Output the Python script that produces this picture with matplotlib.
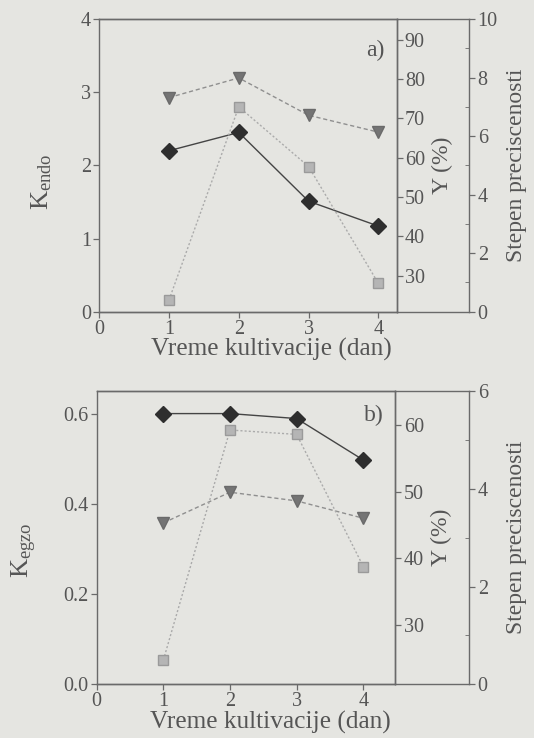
import matplotlib
matplotlib.use("Agg")
import matplotlib.pyplot as plt
from matplotlib.ticker import MultipleLocator

plt.rcParams['font.family'] = ['Liberation Serif', 'DejaVu Serif']
plt.rcParams['mathtext.fontset'] = 'custom'
plt.rcParams['mathtext.rm'] = 'Liberation Serif'
plt.rcParams['mathtext.it'] = 'Liberation Serif:italic'

# ---- data ----
days = [1, 2, 3, 4]
k_endo = [2.20, 2.45, 1.51, 1.17]
y_a = [75.3, 80.3, 70.8, 66.5]
stepen_a = [0.40, 7.00, 4.96, 0.97]

k_egzo = [0.600, 0.600, 0.589, 0.497]
y_b = [45.3, 49.9, 48.6, 46.0]
stepen_b = [0.49, 5.21, 5.12, 2.41]

xlabel = "Vreme kultivacije (dan)"
ylab_a = r"K$_{\rm endo}$"
ylab_b = r"K$_{\rm egzo}$"
ylab_y = "Y (%)"
ylab_s = "Stepen preciscenosti"

BG = "#e5e5e1"
AX = "#6a6a6a"
TX = "#555555"
W, H = 534, 738

fig = plt.figure(figsize=(W / 100, H / 100), dpi=100, facecolor=BG)


def frac(l, t, r, b):
    return [l / W, 1 - b / H, (r - l) / W, (b - t) / H]


def style_axis(a):
    a.tick_params(colors=AX, labelcolor=TX, labelsize=14.5, width=0.9)
    for s in a.spines.values():
        s.set_color(AX)
        s.set_linewidth(1.0)


def panel(l, t, r, b, outer, k, yv, sv, xlim, klim, kticks, kfmt, ylim, yticks,
          slim, sticks, sminor, klabel, klab_xy, tag, tag_xy, xlab_y):
    ax = fig.add_axes(frac(l, t, r, b))
    ax.set_facecolor("none")
    ax2 = ax.twinx()
    ax3 = ax.twinx()
    deco = fig.add_axes(frac(r, t, outer, b), sharey=ax3)
    deco.set_facecolor("none")

    # series
    ax.plot(days, k, color="#444444", lw=1.0, marker="D", ms=8,
            mfc="#2e2e2e", mec="#2e2e2e", zorder=5)
    ax2.plot(days, yv, color="#8f8f8f", lw=1.0, ls=(0, (3, 2)), marker="v",
             ms=9, mfc="#747474", mec="#6a6a6a", zorder=4)
    ax3.plot(days, sv, color="#ababab", lw=1.0, ls=(0, (1.5, 1.5)), marker="s",
             ms=6.5, mfc="#b5b5b5", mec="#9a9a9a", zorder=3)

    ax.set_xlim(*xlim)
    ax.set_ylim(*klim)
    ax.set_xticks([0, 1, 2, 3, 4])
    ax.set_yticks(kticks)
    ax.set_yticklabels([kfmt.format(v) for v in kticks])
    ax.spines['top'].set_visible(True)
    style_axis(ax)
    ax.tick_params(axis='both', direction='out', length=4, pad=2)

    ax2.set_ylim(*ylim)
    ax2.set_yticks(yticks)
    style_axis(ax2)
    ax2.tick_params(axis='y', direction='out', length=4, pad=2)
    ax2.spines['left'].set_visible(False)

    ax3.set_ylim(*slim)
    ax3.axis('off')

    deco.set_xticks([])
    deco.spines['left'].set_visible(False)
    deco.yaxis.tick_right()
    deco.set_yticks(sticks)
    deco.yaxis.set_minor_locator(MultipleLocator(sminor))
    style_axis(deco)
    deco.tick_params(axis='y', which='major', direction='out', length=4, pad=2)
    deco.tick_params(axis='y', which='minor', direction='in', length=3,
                     colors=AX)
    deco.tick_params(axis='y', which='both', left=False, labelleft=False)

    # labels
    fig.text(klab_xy[0] / W, 1 - klab_xy[1] / H, klabel, rotation=90,
             ha='center', va='center', fontsize=19, color=TX)
    fig.text((r + 46) / W, 1 - ((t + b) / 2) / H, ylab_y, rotation=90,
             ha='center', va='center', fontsize=17, color=TX)
    fig.text((outer + 47) / W, 1 - ((t + b) / 2) / H, ylab_s, rotation=90,
             ha='center', va='center', fontsize=17, color=TX)
    fig.text(tag_xy[0] / W, 1 - tag_xy[1] / H, tag, ha='center',
             va='center', fontsize=17, color=TX)
    fig.text(((l + r) / 2 + 24) / W, 1 - xlab_y / H, xlabel, ha='center',
             va='center', fontsize=18.3, color=TX)


panel(99.2, 19, 396.5, 311.7, 469.3, k_endo, y_a, stepen_a,
      (0, 4.26), (0, 4), [0, 1, 2, 3, 4], "{:.0f}",
      (20.8, 95.3), [30, 40, 50, 60, 70, 80, 90],
      (0, 10), [0, 2, 4, 6, 8, 10], 1,
      ylab_a, (42, 182), "a)", (375, 50), 349)

panel(96.7, 391.5, 395.3, 684, 469.3, k_egzo, y_b, stepen_b,
      (0, 4.48), (0, 0.649), [0.0, 0.2, 0.4, 0.6], "{:.1f}",
      (21.15, 65.0), [30, 40, 50, 60],
      (0, 6), [0, 2, 4, 6], 1,
      ylab_b, (24, 550), "b)", (374, 415), 722)

fig.savefig("out.png", dpi=100, facecolor=BG)
